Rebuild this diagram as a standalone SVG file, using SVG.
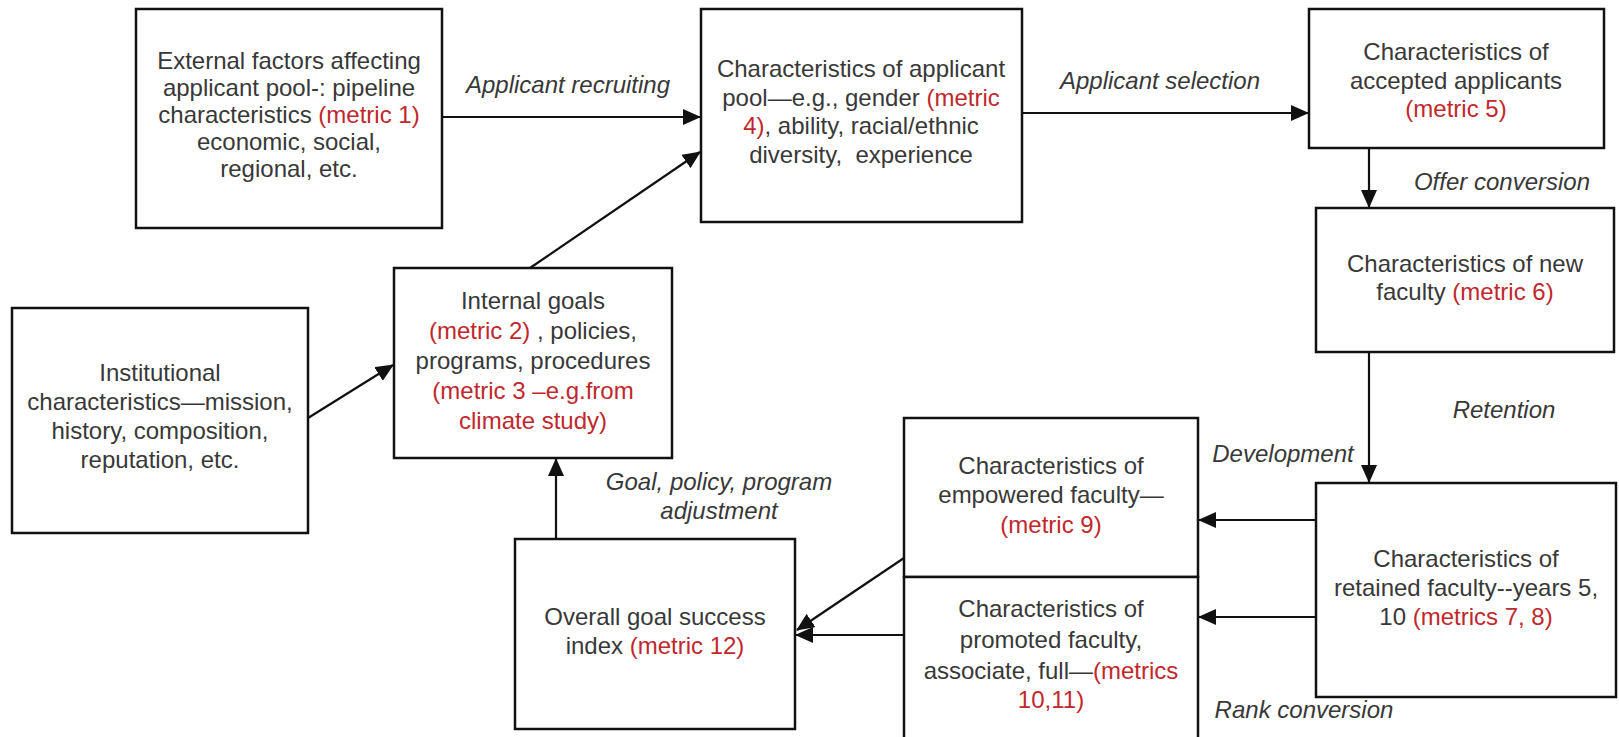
<svg xmlns="http://www.w3.org/2000/svg" width="1619" height="737" viewBox="0 0 1619 737">
<style>
.box{fill:#fff;stroke:#111;stroke-width:2.5}
.t{font-family:"Liberation Sans",Arial,sans-serif;font-size:24px;fill:#383838;text-anchor:middle}
.lbl{font-family:"Liberation Sans",Arial,sans-serif;font-size:24px;fill:#383838;font-style:italic;text-anchor:middle}
.r{fill:#c0282d}
.c{stroke:#111;stroke-width:2.2;fill:none;marker-end:url(#ah)}
</style>
<defs>
<marker id="ah" markerUnits="userSpaceOnUse" markerWidth="18" markerHeight="16" refX="17" refY="8" orient="auto">
<path d="M0,0 L18,8 L0,16 z" fill="#111"/>
</marker>
</defs>
<rect width="1619" height="737" fill="#fff"/>
<g id="connectors">
<line class="c" x1="442" y1="117" x2="700" y2="117"/>
<line class="c" x1="530" y1="268" x2="700" y2="152"/>
<line class="c" x1="1022" y1="113" x2="1308" y2="113"/>
<line class="c" x1="1369" y1="148" x2="1369" y2="207"/>
<line class="c" x1="1369" y1="352" x2="1369" y2="482"/>
<line class="c" x1="308" y1="418" x2="393" y2="365"/>
<line class="c" x1="1316" y1="520" x2="1199" y2="520"/>
<line class="c" x1="1316" y1="617" x2="1199" y2="617"/>
<line class="c" x1="904" y1="558" x2="797" y2="630"/>
<line class="c" x1="904" y1="635" x2="796" y2="635"/>
<line class="c" x1="556" y1="539" x2="556" y2="459"/>
<text class="lbl" x="568" y="93">Applicant recruiting</text>
<text class="lbl" x="1160" y="89">Applicant selection</text>
<text class="lbl" x="1502" y="190">Offer conversion</text>
<text class="lbl" x="1504" y="418">Retention</text>
<text class="lbl" x="1283" y="462">Development</text>
<text class="lbl" x="1304" y="718">Rank conversion</text>
<text class="lbl" x="719" y="490">Goal, policy, program</text>
<text class="lbl" x="719" y="519">adjustment</text>
</g>
<g id="external">
<rect class="box" x="136" y="9" width="306" height="219"/>
<text class="t" x="289" y="69">External factors affecting</text>
<text class="t" x="289" y="96">applicant pool-: pipeline</text>
<text class="t" x="289" y="123">characteristics <tspan class="r">(metric 1)</tspan></text>
<text class="t" x="289" y="150">economic, social,</text>
<text class="t" x="289" y="177">regional, etc.</text>
</g>
<g id="applicant-pool">
<rect class="box" x="701" y="9" width="321" height="213"/>
<text class="t" x="861" y="77">Characteristics of applicant</text>
<text class="t" x="861" y="106">pool—e.g., gender <tspan class="r">(metric</tspan></text>
<text class="t" x="861" y="134"><tspan class="r">4)</tspan>, ability, racial/ethnic</text>
<text class="t" x="861" y="163">diversity,&#160; experience</text>
</g>
<g id="accepted">
<rect class="box" x="1309" y="9" width="295" height="139"/>
<text class="t" x="1456" y="60">Characteristics of</text>
<text class="t" x="1456" y="89">accepted applicants</text>
<text class="t" x="1456" y="117"><tspan class="r">(metric 5)</tspan></text>
</g>
<g id="new-faculty">
<rect class="box" x="1316" y="208" width="298" height="144"/>
<text class="t" x="1465" y="272">Characteristics of new</text>
<text class="t" x="1465" y="300">faculty <tspan class="r">(metric 6)</tspan></text>
</g>
<g id="institutional">
<rect class="box" x="12" y="308" width="296" height="225"/>
<text class="t" x="160" y="381">Institutional</text>
<text class="t" x="160" y="410">characteristics—mission,</text>
<text class="t" x="160" y="439">history, composition,</text>
<text class="t" x="160" y="468">reputation, etc.</text>
</g>
<g id="internal-goals">
<rect class="box" x="394" y="268" width="278" height="190"/>
<text class="t" x="533" y="309">Internal goals</text>
<text class="t" x="533" y="339"><tspan class="r">(metric 2)</tspan> , policies,</text>
<text class="t" x="533" y="369">programs, procedures</text>
<text class="t" x="533" y="399"><tspan class="r">(metric 3 –e.g.from</tspan></text>
<text class="t" x="533" y="429"><tspan class="r">climate study)</tspan></text>
</g>
<g id="empowered">
<rect class="box" x="904" y="418" width="294" height="159"/>
<text class="t" x="1051" y="474">Characteristics of</text>
<text class="t" x="1051" y="503">empowered faculty—</text>
<text class="t" x="1051" y="533"><tspan class="r">(metric 9)</tspan></text>
</g>
<g id="promoted">
<rect class="box" x="904" y="577" width="294" height="170"/>
<text class="t" x="1051" y="617">Characteristics of</text>
<text class="t" x="1051" y="648">promoted faculty,</text>
<text class="t" x="1051" y="679">associate, full—<tspan class="r">(metrics</tspan></text>
<text class="t" x="1051" y="708"><tspan class="r">10,11)</tspan></text>
</g>
<g id="retained">
<rect class="box" x="1316" y="483" width="300" height="214"/>
<text class="t" x="1466" y="567">Characteristics of</text>
<text class="t" x="1466" y="596">retained faculty--years 5,</text>
<text class="t" x="1466" y="625">10 <tspan class="r">(metrics 7, 8)</tspan></text>
</g>
<g id="overall">
<rect class="box" x="515" y="539" width="280" height="190"/>
<text class="t" x="655" y="625">Overall goal success</text>
<text class="t" x="655" y="654">index <tspan class="r">(metric 12)</tspan></text>
</g>
</svg>
